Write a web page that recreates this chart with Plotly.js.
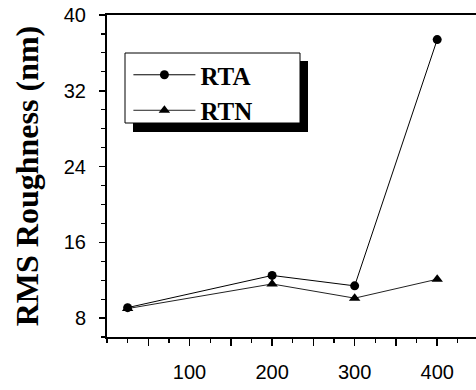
<!DOCTYPE html>
<html>
<head>
<meta charset="utf-8">
<script src="https://cdn.plot.ly/plotly-3.0.1.min.js"></script>
<style>
  html, body { margin: 0; padding: 0; background: #fff; overflow: hidden; }
  #chart { width: 476px; height: 390px; }
</style>
</head>
<body>
<div id="chart"></div>
<script>
// Annealing temperature (°C) and RMS roughness (nm) for each anneal type
const temperature = [25, 200, 300, 400];
const rtaRoughness = [9.1, 12.5, 11.4, 37.4];
const rtnRoughness = [9.0, 11.6, 10.1, 12.1];

// Labelled x ticks every 50 °C; only the hundreds carry text
const xTickVals = [50, 100, 150, 200, 250, 300, 350, 400];
const xTickText = ['', '100', '', '200', '', '300', '', '400'];
const yTickVals = [8, 16, 24, 32, 40];

const traces = [
  {
    x: temperature, y: rtaRoughness, name: 'RTA',
    type: 'scatter', mode: 'lines+markers',
    line: { color: '#000', width: 1 },
    marker: { symbol: 'circle', size: 9, color: '#000' }
  },
  {
    x: temperature, y: rtnRoughness, name: 'RTN',
    type: 'scatter', mode: 'lines+markers',
    line: { color: '#222', width: 1 },
    marker: { symbol: 'triangle-up', size: 10, color: '#000' }
  }
];

const layout = {
  width: 476, height: 390,
  margin: { l: 107, r: 0, t: 15, b: 53 },
  paper_bgcolor: '#fff', plot_bgcolor: '#fff',
  showlegend: true,
  legend: {
    x: 0.058, y: 0.885, xanchor: 'left', yanchor: 'top',
    bgcolor: 'rgba(0,0,0,0)', borderwidth: 0,
    itemwidth: 62, tracegroupgap: 0,
    font: { family: 'Liberation Serif', size: 25, color: '#000', weight: 'bold' }
  },
  xaxis: {
    range: [0, 447], showgrid: false, zeroline: false,
    showline: true, linecolor: '#000', linewidth: 2, mirror: true,
    tickmode: 'array', tickvals: xTickVals, ticktext: xTickText,
    ticks: 'outside', ticklen: 7, tickwidth: 1.5, tickcolor: '#000',
    ticklabelstandoff: 9,
    tickfont: { family: 'Liberation Sans', size: 20, color: '#000' },
    minor: { dtick: 25, tick0: 0, ticks: 'outside', ticklen: 4, tickwidth: 1.2, tickcolor: '#000', showgrid: false }
  },
  yaxis: {
    range: [6, 40], showgrid: false, zeroline: false,
    showline: true, linecolor: '#000', linewidth: 2,
    tickmode: 'array', tickvals: yTickVals,
    ticks: 'outside', ticklen: 6, tickwidth: 1.5, tickcolor: '#000',
    ticklabelstandoff: 9,
    tickfont: { family: 'Liberation Sans', size: 20, color: '#000' },
    minor: { dtick: 2, tick0: 0, ticks: 'outside', ticklen: 4, tickwidth: 1.2, tickcolor: '#000', showgrid: false },
    title: {
      text: 'RMS Roughness (nm)', standoff: 16,
      font: { family: 'Liberation Serif', size: 32, color: '#000', weight: 'bold' }
    }
  },
  shapes: [
    // drop shadow behind the legend box
    { type: 'rect', xref: 'paper', yref: 'paper', layer: 'below',
      x0: 26 / 369, x1: 201 / 369, y0: (337 - 132) / 322, y1: (337 - 61) / 322,
      fillcolor: '#000', line: { width: 0 } },
    // legend frame
    { type: 'rect', xref: 'paper', yref: 'paper', layer: 'below',
      x0: 18 / 369, x1: 193 / 369, y0: (337 - 123) / 322, y1: (337 - 53) / 322,
      fillcolor: '#fff', line: { color: '#000', width: 1 } }
  ]
};

Plotly.newPlot('chart', traces, layout, { staticPlot: true, displayModeBar: false });
</script>
</body>
</html>
